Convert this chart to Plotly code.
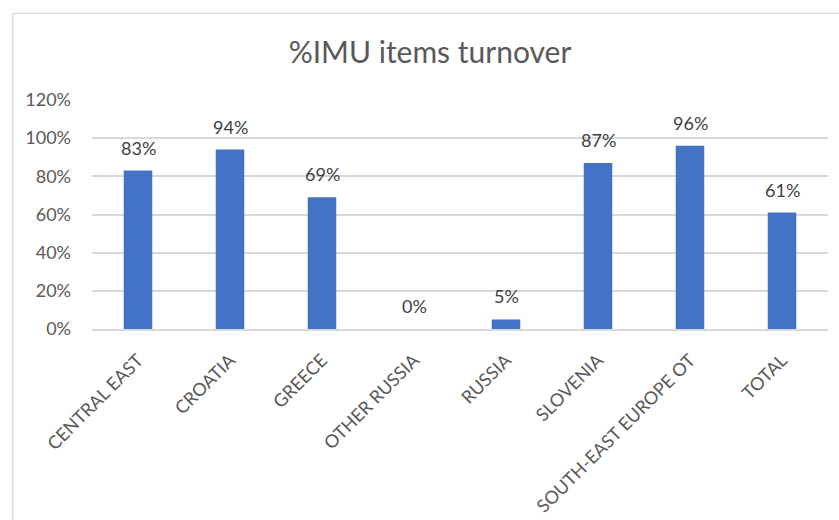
import plotly.graph_objects as go

categories = ["CENTRAL EAST", "CROATIA", "GREECE", "OTHER RUSSIA", "RUSSIA",
              "SLOVENIA", "SOUTH-EAST EUROPE OT", "TOTAL"]
values = [0.83, 0.94, 0.69, 0.0, 0.05, 0.87, 0.96, 0.61]
y_ticks = [0, 0.2, 0.4, 0.6, 0.8, 1.0, 1.2]
y_tick_labels = ["0%", "20%", "40%", "60%", "80%", "100%", "120%"]

FONT = "Lato, Calibri, Carlito, sans-serif"
BORDER = "#D9D9D9"

fig = go.Figure()
fig.add_trace(go.Bar(
    x=categories, y=values,
    marker=dict(color="#4472C4", line=dict(width=0)),
    width=0.31,
))

annotations = [
    dict(x=c, y=v, xref="x", yref="y", text=f"{round(v * 100)}%",
         showarrow=False, yanchor="bottom", yshift=10,
         font=dict(family=FONT, size=18, color="#404040"))
    for c, v in zip(categories, values)
]

PW, PH = 736, 229
left = (12 - 92) / PW
top = (329 - 14) / PH
right = (839 - 92) / PW
bottom = (329 - 520) / PH

fig.update_layout(
    width=839, height=520,
    margin=dict(l=92, r=11, t=100, b=191, autoexpand=False),
    paper_bgcolor="white", plot_bgcolor="white",
    showlegend=False,
    title=dict(text="%IMU items turnover", x=430 / 839, xanchor="center",
               y=1 - 52 / 520, yanchor="middle",
               font=dict(family=FONT, size=30, color="#595959")),
    annotations=annotations,
    shapes=[
        dict(type="rect", xref="paper", yref="paper", x0=left, x1=right, y0=top, y1=top + 0.006,
             line=dict(width=0), fillcolor=BORDER, layer="below"),
        dict(type="rect", xref="paper", yref="paper", x0=left, x1=left + 0.002, y0=top, y1=bottom,
             line=dict(width=0), fillcolor=BORDER, layer="below"),
    ],
)
fig.update_xaxes(
    tickangle=-45, tickfont=dict(family=FONT, size=18, color="#595959"),
    showline=True, linecolor="#D9D9D9", linewidth=1.5, ticks="",
    showgrid=False, ticklabelstandoff=12, automargin=False,
)
fig.update_yaxes(
    range=[0, 1.2], tickvals=y_ticks, ticktext=y_tick_labels,
    tickfont=dict(family=FONT, size=18, color="#595959"),
    showgrid=True, gridcolor="#D9D9D9", gridwidth=1.5,
    zeroline=False, showline=False, ticks="", ticklabelstandoff=20, automargin=False,
)

fig.write_html("out.html", config={"displayModeBar": False})
